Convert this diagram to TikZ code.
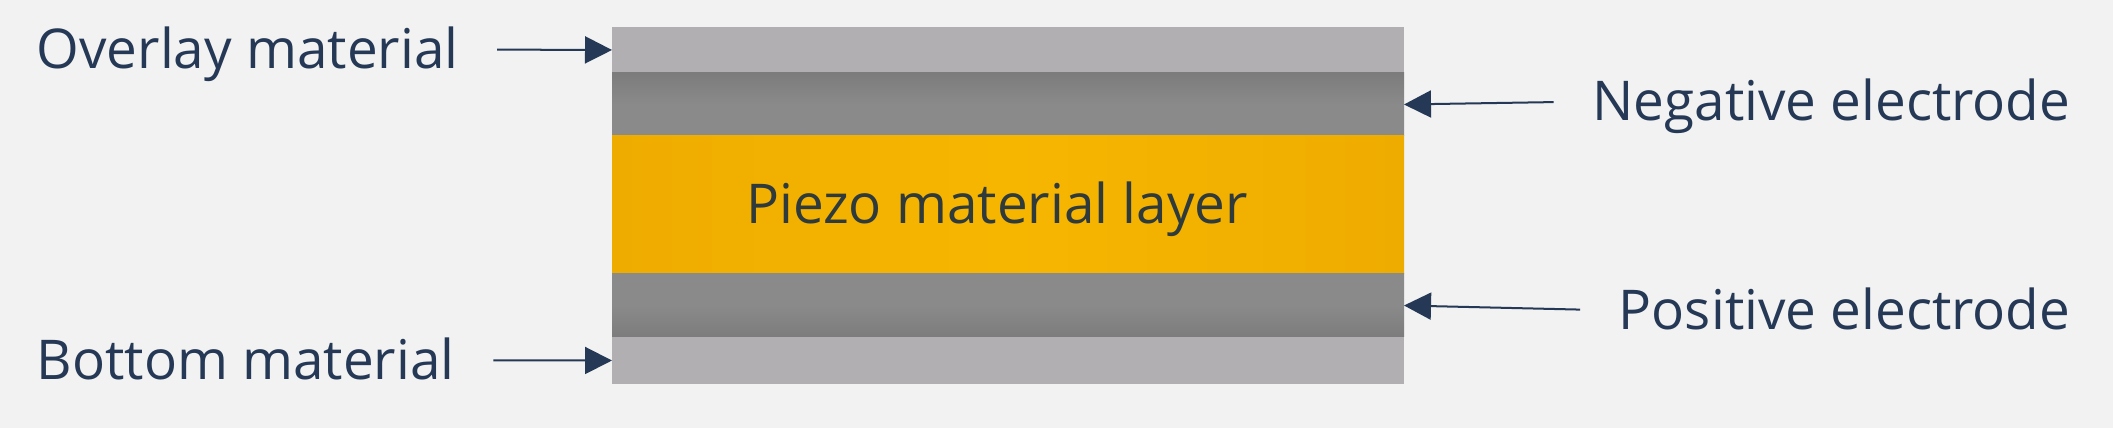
\documentclass[tikz,border=0pt]{standalone}
\usepackage{fontspec}
\setmainfont{Open Sans}
\usepackage{tikz}
\usetikzlibrary{arrows.meta,positioning}
\definecolor{pzback}{RGB}{241,242,241}
\definecolor{pzclad}{RGB}{178,175,178}
\definecolor{pzelec}{RGB}{138,138,138}
\definecolor{pzelecdark}{RGB}{124,124,124}
\definecolor{pzyellow}{RGB}{246,182,0}
\definecolor{pzyellowdark}{RGB}{239,172,0}
\definecolor{pznavy}{RGB}{37,56,85}
\definecolor{pztext}{RGB}{46,58,60}

\tikzset{
  layer/.style={rectangle, inner sep=0pt, outer sep=0pt, minimum width=7.92cm},
  label/.style={text=pznavy, inner sep=0pt, text height=14.8pt, text depth=3.7pt,
    font=\fontsize{15.6}{18}\selectfont},
  pointer/.style={pznavy, line width=0.57pt, shorten <=0.38cm,
    -{Triangle[length=0.27cm,width=0.27cm]}}
}

\begin{document}
\begin{tikzpicture}
  % Background
  \fill[pzback] (0,0) rectangle (21.13,4.28);
  % Layer stack
  \node[layer, fill=pzclad, minimum height=0.46cm, anchor=north] (overlay) at (10.08,4.01) {};
  \node[layer, minimum height=0.63cm, below=0cm of overlay,
    top color=pzelecdark, bottom color=pzelec, middle color=pzelec] (negative) {};
  \node[layer, minimum height=1.38cm, below=0cm of negative,
    left color=pzyellowdark, right color=pzyellowdark, middle color=pzyellow] (piezo) {};
  \node[layer, minimum height=0.63cm, below=0cm of piezo,
    top color=pzelec, bottom color=pzelecdark, middle color=pzelec] (positive) {};
  \node[layer, fill=pzclad, minimum height=0.47cm, below=0cm of positive] (bottom) {};
  \node[text=pztext, inner sep=0pt, anchor=base, font=\fontsize{15.6}{18}\selectfont]
    (piezo-text) at (9.97,2.04) {Piezo material layer};
  % Labels
  \node[label, anchor=base west] (lbl-overlay) at (0.36,3.59) {Overlay material};
  \node[label, anchor=base west] (lbl-bottom) at (0.36,0.48) {Bottom material};
  \node[label, anchor=base east] (lbl-negative) at (20.71,3.07) {Negative electrode};
  \node[label, anchor=base east] (lbl-positive) at (20.71,0.98) {Positive electrode};
  % Arrows
  \draw[pointer] (lbl-overlay.east) -- (overlay.west);
  \draw[pointer] (lbl-bottom.east) -- (bottom.west);
  \draw[pointer] (lbl-negative.west) -- (negative.east);
  \draw[pointer] (lbl-positive.west) -- (positive.east);
\end{tikzpicture}
\end{document}
